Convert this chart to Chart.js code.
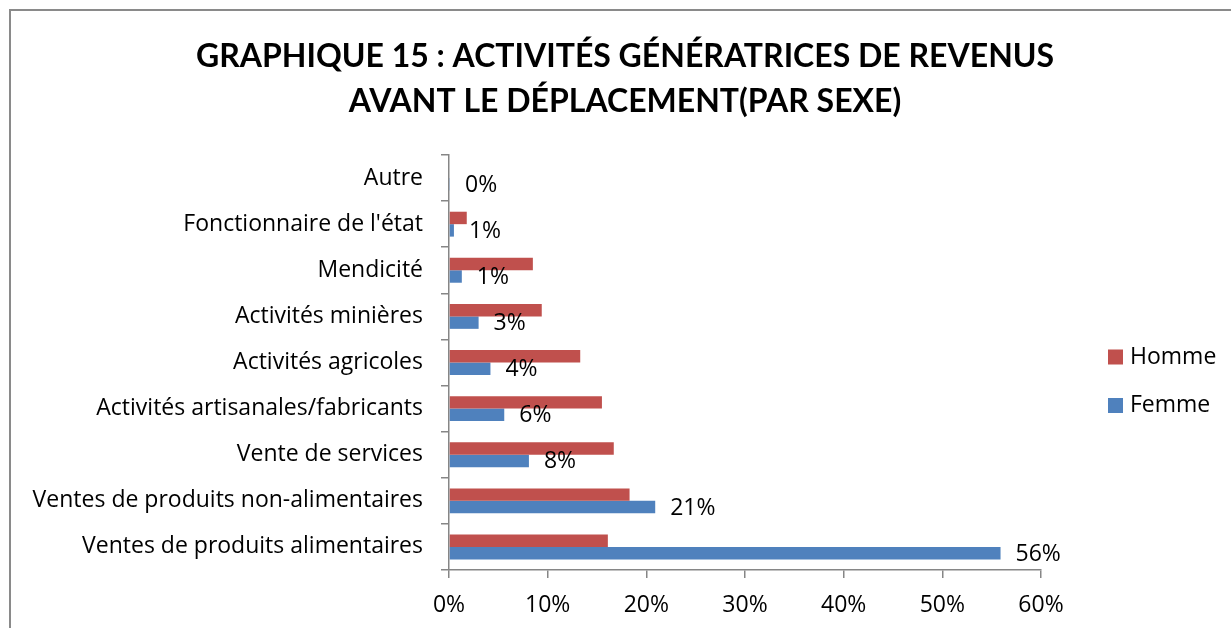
<!DOCTYPE html>
<html lang="fr">
<head>
<meta charset="utf-8">
<title>Graphique 15</title>
<script src="https://cdn.jsdelivr.net/npm/chart.js@4.4.1/dist/chart.umd.min.js"></script>
<style>
  html, body { margin: 0; padding: 0; background: #fff; overflow: hidden; }
  #wrap { position: relative; width: 1231px; height: 628px; }
  #c { display: block; }
  #frame {
    position: absolute; left: 9px; top: 9px; width: 1400px; height: 800px;
    border: 2px solid #8a8a8a; pointer-events: none;
  }
</style>
</head>
<body>
<div id="wrap">
  <canvas id="c" width="1231" height="628"></canvas>
  <div id="frame"></div>
</div>
<script>
  "use strict";

  // données (en %)
  const TITLE = [
    "GRAPHIQUE 15 : ACTIVITÉS GÉNÉRATRICES DE REVENUS",
    "AVANT LE DÉPLACEMENT(PAR SEXE)",
  ];
  const categories = [
    "Autre",
    "Fonctionnaire de l'état",
    "Mendicité",
    "Activités minières",
    "Activités agricoles",
    "Activités artisanales/fabricants",
    "Vente de services",
    "Ventes de produits non-alimentaires",
    "Ventes de produits alimentaires",
  ];
  const homme = [0, 1.8, 8.5, 9.4, 13.3, 15.5, 16.7, 18.3, 16.1];
  const femme = [0.1, 0.5, 1.3, 3.0, 4.2, 5.6, 8.1, 20.9, 55.9];
  const xTicks = [0, 10, 20, 30, 40, 50, 60];

  const FONT = "'Open Sans', Lato, sans-serif";
  const TITLE_FONT = "Lato, 'Open Sans', sans-serif";
  const AXIS = "#868686";

  // titre centré sur tout le cadre (pas seulement la zone du graphique)
  const chartTitle = {
    id: "chartTitle",
    afterDraw(chart) {
      const ctx = chart.ctx;
      ctx.save();
      ctx.font = "bold 32px " + TITLE_FONT;
      ctx.fillStyle = "#000";
      ctx.textAlign = "center";
      ctx.textBaseline = "middle";
      TITLE.forEach((line, i) => ctx.fillText(line, 625, 57 + i * 45));
      ctx.restore();
    },
  };

  // étiquettes de valeur (série Femme uniquement)
  const valueLabels = {
    id: "valueLabels",
    afterDatasetsDraw(chart) {
      const ctx = chart.ctx;
      const meta = chart.getDatasetMeta(1);
      ctx.save();
      ctx.font = "23px " + FONT;
      ctx.fillStyle = "#000";
      ctx.textAlign = "left";
      ctx.textBaseline = "middle";
      meta.data.forEach((bar, i) => {
        const v = chart.data.datasets[1].data[i];
        ctx.fillText(Math.round(v) + "%", bar.x + 15, bar.y + 1);
      });
      ctx.restore();
    },
  };

  // légende à droite, comme dans Excel
  const sideLegend = {
    id: "sideLegend",
    afterDraw(chart) {
      const ctx = chart.ctx;
      ctx.save();
      ctx.font = "23px " + FONT;
      ctx.textAlign = "left";
      ctx.textBaseline = "middle";
      chart.data.datasets.forEach((ds, i) => {
        const y = 357 + i * 48.5;
        ctx.fillStyle = ds.backgroundColor;
        ctx.fillRect(1108, y - 7.5, 15, 15);
        ctx.fillStyle = "#000";
        ctx.fillText(ds.label, 1130, y);
      });
      ctx.restore();
    },
  };

  new Chart(document.getElementById("c"), {
    type: "bar",
    data: {
      labels: categories,
      datasets: [
        {
          label: "Homme",
          data: homme,
          backgroundColor: "#C0504D",
          categoryPercentage: 0.54,
          barPercentage: 1,
        },
        {
          label: "Femme",
          data: femme,
          backgroundColor: "#4F81BD",
          categoryPercentage: 0.54,
          barPercentage: 1,
        },
      ],
    },
    options: {
      indexAxis: "y",
      responsive: false,
      animation: false,
      layout: { padding: { left: 10, right: 190, top: 155, bottom: 0 } },
      plugins: {
        legend: { display: false },
        tooltip: { enabled: false },
        title: { display: false },
      },
      scales: {
        x: {
          min: 0,
          max: 60,
          afterBuildTicks: (scale) => {
            scale.ticks = xTicks.map((v) => ({ value: v }));
          },
          afterFit: (scale) => {
            scale.height = 58;
          },
          border: { display: true, color: AXIS, width: 1.5 },
          grid: { drawOnChartArea: false, drawTicks: true, tickLength: 8, color: AXIS, lineWidth: 1.5 },
          ticks: {
            color: "#000",
            padding: 14,
            font: { family: FONT, size: 23 },
            callback: (v) => v + "%",
          },
        },
        y: {
          afterFit: (scale) => {
            scale.width = 439;
          },
          border: { display: true, color: AXIS, width: 1.5 },
          grid: { drawOnChartArea: false, drawTicks: true, tickLength: 8, color: AXIS, lineWidth: 1.5, offset: true },
          ticks: {
            color: "#000",
            padding: 18,
            autoSkip: false,
            font: { family: FONT, size: 23 },
          },
        },
      },
    },
    plugins: [valueLabels, sideLegend, chartTitle],
  });
</script>
</body>
</html>
